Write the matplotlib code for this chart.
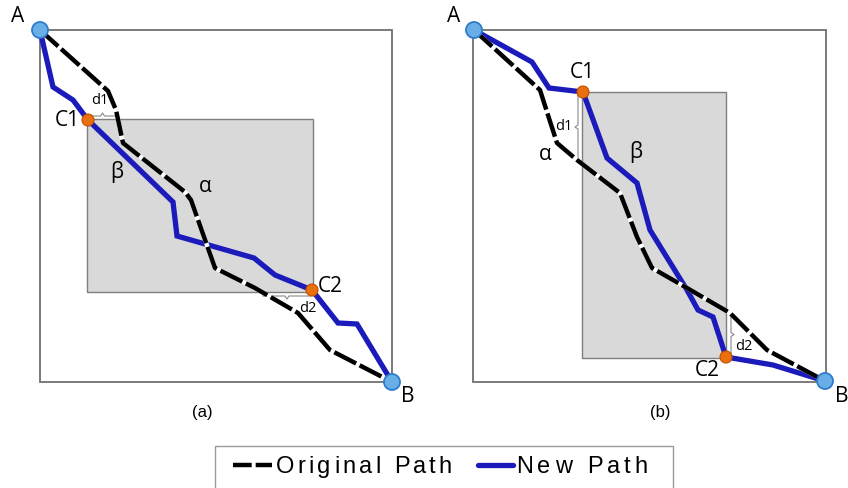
import matplotlib.pyplot as plt
from matplotlib.patches import Rectangle, Circle
from matplotlib.font_manager import FontProperties

# everything is in picture pixel coordinates (x right, y down)

# panel (a)
outer_a = (40, 30, 392, 382)
inner_a = (87, 119, 313, 292)
orig_a_x = [40, 108, 116, 123, 185, 191, 215, 255, 298, 330, 392]
orig_a_y = [30, 91, 110, 143, 192, 200, 268, 288, 313, 350, 382]
new_a_x = [40, 53, 73, 88, 173, 177, 254, 275, 312, 338, 357, 392]
new_a_y = [30, 87, 100, 120, 202, 236, 258, 275, 290, 323, 324, 382]
c_a = [(88, 120), (312, 290)]

# panel (b)
outer_b = (473, 30, 826, 382)
inner_b = (582, 92, 726, 358)
orig_b_x = [474, 540, 547, 557, 577, 620, 637, 652, 687, 730, 767, 825]
orig_b_y = [30, 90, 112, 143, 160, 193, 237, 268, 288, 313, 350, 381]
new_b_x = [474, 532, 549, 583, 607, 637, 650, 687, 698, 713, 726, 773, 825]
new_b_y = [30, 62, 88, 92, 158, 183, 230, 290, 310, 317, 357, 365, 381]
c_b = [(583, 92), (726, 357)]

labels = {
    'a': [('A', 18, 17), ('B', 408, 396), ('C1', 67, 121), ('C2', 330, 286),
          ('β', 117, 172), ('α', 205, 186)],
    'b': [('A', 454, 16), ('B', 842, 396), ('C1', 582, 72), ('C2', 707, 370),
          ('α', 545, 155), ('β', 636, 152)],
}
legend_names = ['Original Path', 'New Path']

BLUE = '#1b1bbb'
fig = plt.figure(figsize=(8.48, 4.88), dpi=100)
ax = fig.add_axes([0, 0, 1, 1])
ax.set_xlim(0, 848)
ax.set_ylim(488, 0)
ax.axis('off')

for outer, inner in [(outer_a, inner_a), (outer_b, inner_b)]:
    ax.add_patch(Rectangle((outer[0], outer[1]), outer[2] - outer[0], outer[3] - outer[1],
                           fill=False, ec='#707070', lw=1.3, zorder=1))
    ax.add_patch(Rectangle((inner[0], inner[1]), inner[2] - inner[0], inner[3] - inner[1],
                           fc='#d9d9d9', ec='#7f7f7f', lw=1.0, zorder=1))

def bracket_h(x0, x1, y, up=True):
    s = -1 if up else 1
    xm = (x0 + x1) / 2
    xs = [x0, x0, xm - 2, xm, xm + 2, x1, x1]
    ys = [y - s * 4, y, y, y + s * 3, y, y, y - s * 4]
    ax.plot(xs, ys, color='#8a8a8a', lw=0.8, zorder=2)

def bracket_v(x, y0, y1, left=True):
    s = -1 if left else 1
    ym = (y0 + y1) / 2
    xs = [x - s * 4, x, x, x + s * 3, x, x, x - s * 4]
    ys = [y0, y0, ym - 2, ym, ym + 2, y1, y1]
    ax.plot(xs, ys, color='#8a8a8a', lw=0.8, zorder=2)

bracket_h(88, 117, 116, up=True)
bracket_h(263, 311, 296, up=False)
bracket_v(578, 93, 161, left=True)
bracket_v(731, 312, 357, left=False)
ax.text(100, 101, 'd1', fontsize=10.5, ha='center', va='center', family='Open Sans', zorder=6)
ax.text(308, 309, 'd2', fontsize=10.5, ha='center', va='center', family='Open Sans', zorder=6)
ax.text(564, 126, 'd1', fontsize=10.5, ha='center', va='center', family='Open Sans', zorder=6)
ax.text(744, 346, 'd2', fontsize=10.5, ha='center', va='center', family='Open Sans', zorder=6)

for nx, ny, ox, oy in [(new_a_x, new_a_y, orig_a_x, orig_a_y),
                       (new_b_x, new_b_y, orig_b_x, orig_b_y)]:
    ax.plot(nx, ny, color=BLUE, lw=3.8, solid_joinstyle='miter', zorder=3)
    ax.plot(ox, oy, color='white', lw=3.2, zorder=4)
    ax.plot(ox, oy, color='black', lw=3.2, dashes=(5.5, 0.9), zorder=4)
    for (x, y) in [(nx[0], ny[0]), (nx[-1], ny[-1])]:
        ax.add_patch(Circle((x, y), 8, fc='#6aaee8', ec='#2f7bcc', lw=1.3, zorder=5))

for (x, y) in c_a + c_b:
    ax.add_patch(Circle((x, y), 6, fc='#e8700f', ec='#c05000', lw=0.8, zorder=5))

for key in labels:
    for t, x, y in labels[key]:
        ax.text(x, y, t, fontsize=15, ha='center', va='center', family='Open Sans', zorder=6)

ax.text(202, 412, '(a)', fontsize=12, ha='center', va='center', family='Liberation Sans')
ax.text(660, 412, '(b)', fontsize=12, ha='center', va='center', family='Liberation Sans')

# legend box and handles
ax.add_patch(Rectangle((215, 446), 458, 50, fill=False, ec='#9a9a9a', lw=1.0, clip_on=False))
ax.plot([233, 272], [465, 465], color='black', lw=3.2, dashes=(4.2, 0.9), solid_capstyle='butt')
ax.plot([478, 513], [465, 465], color=BLUE, lw=3.8, solid_capstyle='round')

# letter-spaced legend text, placed one char at a time
renderer = fig.canvas.get_renderer()
fp = FontProperties(family='Liberation Sans', size=17)

def text_w(s):
    return renderer.get_text_width_height_descent(s, fp, ismath=False)[0]

def spaced_text(s, x0, x1, y):
    space_w = text_w('n n') - text_w('nn')
    widths = [space_w if c == ' ' else text_w(c) for c in s]
    track = (x1 - x0 - sum(widths)) / (len(s) - 1)
    x = x0
    for c, w in zip(s, widths):
        if c != ' ':
            ax.text(x, y, c, fontproperties=fp, ha='left', va='center')
        x += w + track

spaced_text(legend_names[0], 276, 452, 467)
spaced_text(legend_names[1], 516, 648, 467)

fig.savefig('out.png', dpi=100)
